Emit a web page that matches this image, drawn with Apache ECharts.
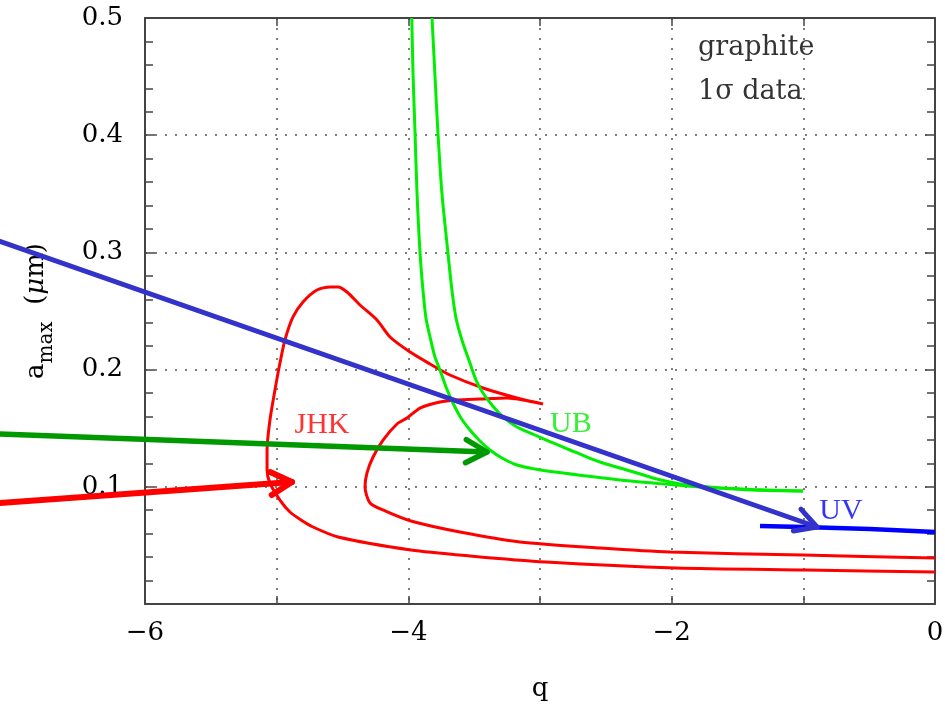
<!DOCTYPE html>
<html>
<head>
<meta charset="utf-8">
<script src="https://cdn.jsdelivr.net/npm/echarts@6/dist/echarts.min.js"></script>
<style>html,body{margin:0;padding:0;background:#fff}#c{width:945px;height:706px}</style>
</head>
<body>
<div id="c"></div>
<script>
// ---- data ----
const jhkQ = [0, -0.98, -1.967, -2.955, -3.532, -3.98, -4.534, -4.724, -4.815, -4.899, -4.975, -5.051, -5.073, -5.073, -5.051, -5.013, -4.975, -4.937, -4.876, -4.8, -4.694, -4.595, -4.534, -4.466, -4.367, -4.238, -4.139, -3.987, -3.835, -3.684, -3.433, -3.175, -2.977, -3.129, -3.251, -3.456, -3.63, -3.76, -3.911, -4.01, -4.086, -4.192, -4.268, -4.314, -4.329, -4.291, -4.177, -3.98, -3.608, -3.152, -2.544, -2.013, -1.003, 0];
const jhkA = [0.0273, 0.029, 0.0307, 0.0358, 0.041, 0.0461, 0.0572, 0.0657, 0.0717, 0.0785, 0.0887, 0.1032, 0.1143, 0.1314, 0.157, 0.1826, 0.2056, 0.2253, 0.2449, 0.2577, 0.2679, 0.2705, 0.2705, 0.2662, 0.2551, 0.2423, 0.2278, 0.2150, 0.2048, 0.1954, 0.1843, 0.1758, 0.1706, 0.1741, 0.1758, 0.1749, 0.1741, 0.1724, 0.1672, 0.1587, 0.1536, 0.1399, 0.1254, 0.1118, 0.0998, 0.0862, 0.0794, 0.0708, 0.0614, 0.0529, 0.0478, 0.0444, 0.0418, 0.0392];

const ubLeftQ = [-3.974, -3.964, -3.949, -3.934, -3.911, -3.889, -3.866, -3.835, -3.798, -3.760, -3.714, -3.661, -3.600, -3.532, -3.456, -3.380, -3.289, -3.175, -3.038, -2.886, -2.643, -2.392, -2.142, -1.884, -1.633, -1.382, -1.003];
const ubLeftA = [0.5, 0.4514, 0.4019, 0.3507, 0.2995, 0.2679, 0.2440, 0.2278, 0.2108, 0.1997, 0.1852, 0.1715, 0.1587, 0.1485, 0.1391, 0.1314, 0.1246, 0.1186, 0.1152, 0.1126, 0.1092, 0.1058, 0.1032, 0.1007, 0.0990, 0.0977, 0.0964];

const ubRightQ = [-3.820, -3.798, -3.775, -3.745, -3.699, -3.669, -3.638, -3.593, -3.532, -3.486, -3.433, -3.365, -3.281, -3.175, -3.038, -2.901, -2.772, -2.643, -2.521, -2.392, -2.263, -2.142, -2.013, -1.884, -1.633, -1.382, -1.003];
const ubRightA = [0.5, 0.4514, 0.4019, 0.3507, 0.2995, 0.2679, 0.2440, 0.2253, 0.2056, 0.1911, 0.1800, 0.1698, 0.1596, 0.1510, 0.1442, 0.1374, 0.1314, 0.1254, 0.1203, 0.1160, 0.1118, 0.1075, 0.1041, 0.1015, 0.0990, 0.0973, 0.0964];

const uvQ = [-1.329, -1.003, -0.494, 0];
const uvA = [0.0666, 0.0657, 0.064, 0.0614];

// arrows: start q, start a, end q, end a
const arrowBlue  = [-7.11, 0.3097, -0.896, 0.0657];
const arrowGreen = [-7.11, 0.145, -3.403, 0.1297];
const arrowRed   = [-7.11, 0.0862, -4.884, 0.1041];

// curve labels
const labelNames = ['JHK', 'UB', 'UV'];
const labelQ = [-4.656, -2.765, -0.714];
const labelA = [0.1527, 0.1536, 0.0794];

const noteLines = ['graphite', '1σ data'];
const noteQ = [-1.80, -1.80];
const noteA = [0.4744, 0.437];

const xTickValues = [-6, -4, -2, 0];
const xTickLabels = ['\u22126', '\u22124', '\u22122', '0'];
const yTickValues = [0.1, 0.2, 0.3, 0.4, 0.5];
const yTickLabels = ['0.1', '0.2', '0.3', '0.4', '0.5'];

// ---- chart ----
const zip = (a, b) => a.map((v, i) => [v, b[i]]);
const chart = echarts.init(document.getElementById('c'), null, {renderer: 'canvas'});
const AX = '#444';
const FONT = 'DejaVu Serif';
const TXT = '#000';

function arrowItem(params, api) {
  const p0 = api.coord([api.value(0), api.value(1)]);
  const p1 = api.coord([api.value(2), api.value(3)]);
  const color = api.visual('color');
  const ang = Math.atan2(p1[1] - p0[1], p1[0] - p0[0]);
  const L = 24, w = 0.5;
  const a1 = [p1[0] - L * Math.cos(ang - w), p1[1] - L * Math.sin(ang - w)];
  const a2 = [p1[0] - L * Math.cos(ang + w), p1[1] - L * Math.sin(ang + w)];
  const lw = api.value(4);
  return {
    type: 'group',
    children: [
      {type: 'line', shape: {x1: p0[0], y1: p0[1], x2: p1[0], y2: p1[1]}, style: {stroke: color, lineWidth: lw, lineCap: 'round'}},
      {type: 'polyline', shape: {points: [a1, p1, a2]}, style: {stroke: color, lineWidth: lw, fill: null, lineCap: 'round', lineJoin: 'round'}}
    ]
  };
}

const option = {
  animation: false,
  backgroundColor: '#fff',
  grid: {left: 145, right: 10, top: 18, bottom: 102, containLabel: false, outerBoundsMode: 'none'},
  xAxis: [{
    type: 'value', min: -6, max: 0, interval: 1,
    name: 'q', nameLocation: 'middle', nameGap: 72,
    nameTextStyle: {fontFamily: FONT, fontSize: 26, color: TXT},
    axisLine: {show: true, onZero: false, lineStyle: {color: AX, width: 2}},
    axisTick: {show: true, inside: true, length: 8, lineStyle: {color: AX, width: 1.5}},
    axisLabel: {margin: 16, fontFamily: FONT, fontSize: 26, color: TXT,
      formatter: v => { const i = xTickValues.indexOf(Math.round(v)); return i >= 0 && Math.abs(v - Math.round(v)) < 1e-9 ? xTickLabels[i] : ''; }},
    splitLine: {show: true, lineStyle: {color: '#555', width: 1.5, type: [2, 8]}}
  }, {
    type: 'value', min: -6, max: 0, interval: 1, position: 'top',
    axisLine: {show: true, onZero: false, lineStyle: {color: AX, width: 2}},
    axisTick: {show: true, inside: true, length: 8, lineStyle: {color: AX, width: 1.5}},
    axisLabel: {show: false}, splitLine: {show: false}
  }],
  yAxis: [{
    type: 'value', min: 0, max: 0.5, interval: 0.1,
    name: '{a|a}{sub|max}{n|  (}{it|μ}{n|m)}', nameLocation: 'middle', nameGap: 88, nameRotate: 90,
    nameTextStyle: {
      color: TXT,
      rich: {
        a: {fontFamily: FONT, fontSize: 26, color: TXT, verticalAlign: 'top', lineHeight: 34},
        sub: {fontFamily: FONT, fontSize: 20, color: TXT, verticalAlign: 'bottom', lineHeight: 22},
        n: {fontFamily: FONT, fontSize: 26, color: TXT, verticalAlign: 'top', lineHeight: 34},
        it: {fontFamily: FONT, fontSize: 26, fontStyle: 'italic', color: TXT, verticalAlign: 'top', lineHeight: 34}
      }
    },
    axisLine: {show: true, onZero: false, lineStyle: {color: AX, width: 2}},
    axisTick: {show: true, inside: true, length: 10, lineStyle: {color: AX, width: 1.5}},
    minorTick: {show: true, splitNumber: 5, length: 8, lineStyle: {color: AX, width: 1.5}},
    axisLabel: {margin: 22, fontFamily: FONT, fontSize: 26, color: TXT,
      formatter: v => { const i = yTickValues.findIndex(t => Math.abs(t - v) < 1e-9); return i >= 0 ? yTickLabels[i] : ''; }},
    splitLine: {show: true, lineStyle: {color: '#555', width: 1.5, type: [2, 8]}}
  }, {
    type: 'value', min: 0, max: 0.5, interval: 0.1, position: 'right',
    axisLine: {show: true, onZero: false, lineStyle: {color: AX, width: 2}},
    axisTick: {show: true, inside: true, length: 10, lineStyle: {color: AX, width: 1.5}},
    minorTick: {show: true, splitNumber: 5, length: 8, lineStyle: {color: AX, width: 1.5}},
    axisLabel: {show: false}, splitLine: {show: false}
  }],
  series: [
    {type: 'line', name: 'JHK', data: zip(jhkQ, jhkA), showSymbol: false, smooth: 0.25,
      lineStyle: {color: '#ff0000', width: 3}, clip: true, z: 3},
    {type: 'line', name: 'UB1', data: zip(ubLeftQ, ubLeftA), showSymbol: false, smooth: 0.3,
      lineStyle: {color: '#00ee00', width: 3}, clip: true, z: 3},
    {type: 'line', name: 'UB2', data: zip(ubRightQ, ubRightA), showSymbol: false, smooth: 0.3,
      lineStyle: {color: '#00ee00', width: 3}, clip: true, z: 3},
    {type: 'line', name: 'UV', data: zip(uvQ, uvA), showSymbol: false,
      lineStyle: {color: '#0000ff', width: 4.5}, clip: true, z: 3},
    {type: 'custom', name: 'arrows', renderItem: arrowItem, clip: false, z: 4,
      data: [
        {value: [...arrowBlue, 5], itemStyle: {color: '#3333cc'}},
        {value: [...arrowGreen, 5.5], itemStyle: {color: '#009900'}},
        {value: [...arrowRed, 6], itemStyle: {color: '#ff0000'}}
      ]},
    {type: 'scatter', name: 'labels', symbolSize: 0, z: 5,
      data: labelNames.map((n, i) => ({name: n, value: [labelQ[i], labelA[i]],
        label: {show: true, position: 'inside', formatter: n, fontFamily: 'Liberation Serif', fontSize: 30,
          color: ['#ff0000', '#00ee00', '#0000ff'][i]}}))},
    {type: 'scatter', name: 'notes', symbolSize: 0, z: 5,
      data: noteLines.map((n, i) => ({name: n, value: [noteQ[i], noteA[i]],
        label: {show: true, position: 'right', distance: 0, formatter: n, fontFamily: FONT, fontSize: 27, color: TXT}}))}
  ]
};
chart.setOption(option);
</script>
</body>
</html>
